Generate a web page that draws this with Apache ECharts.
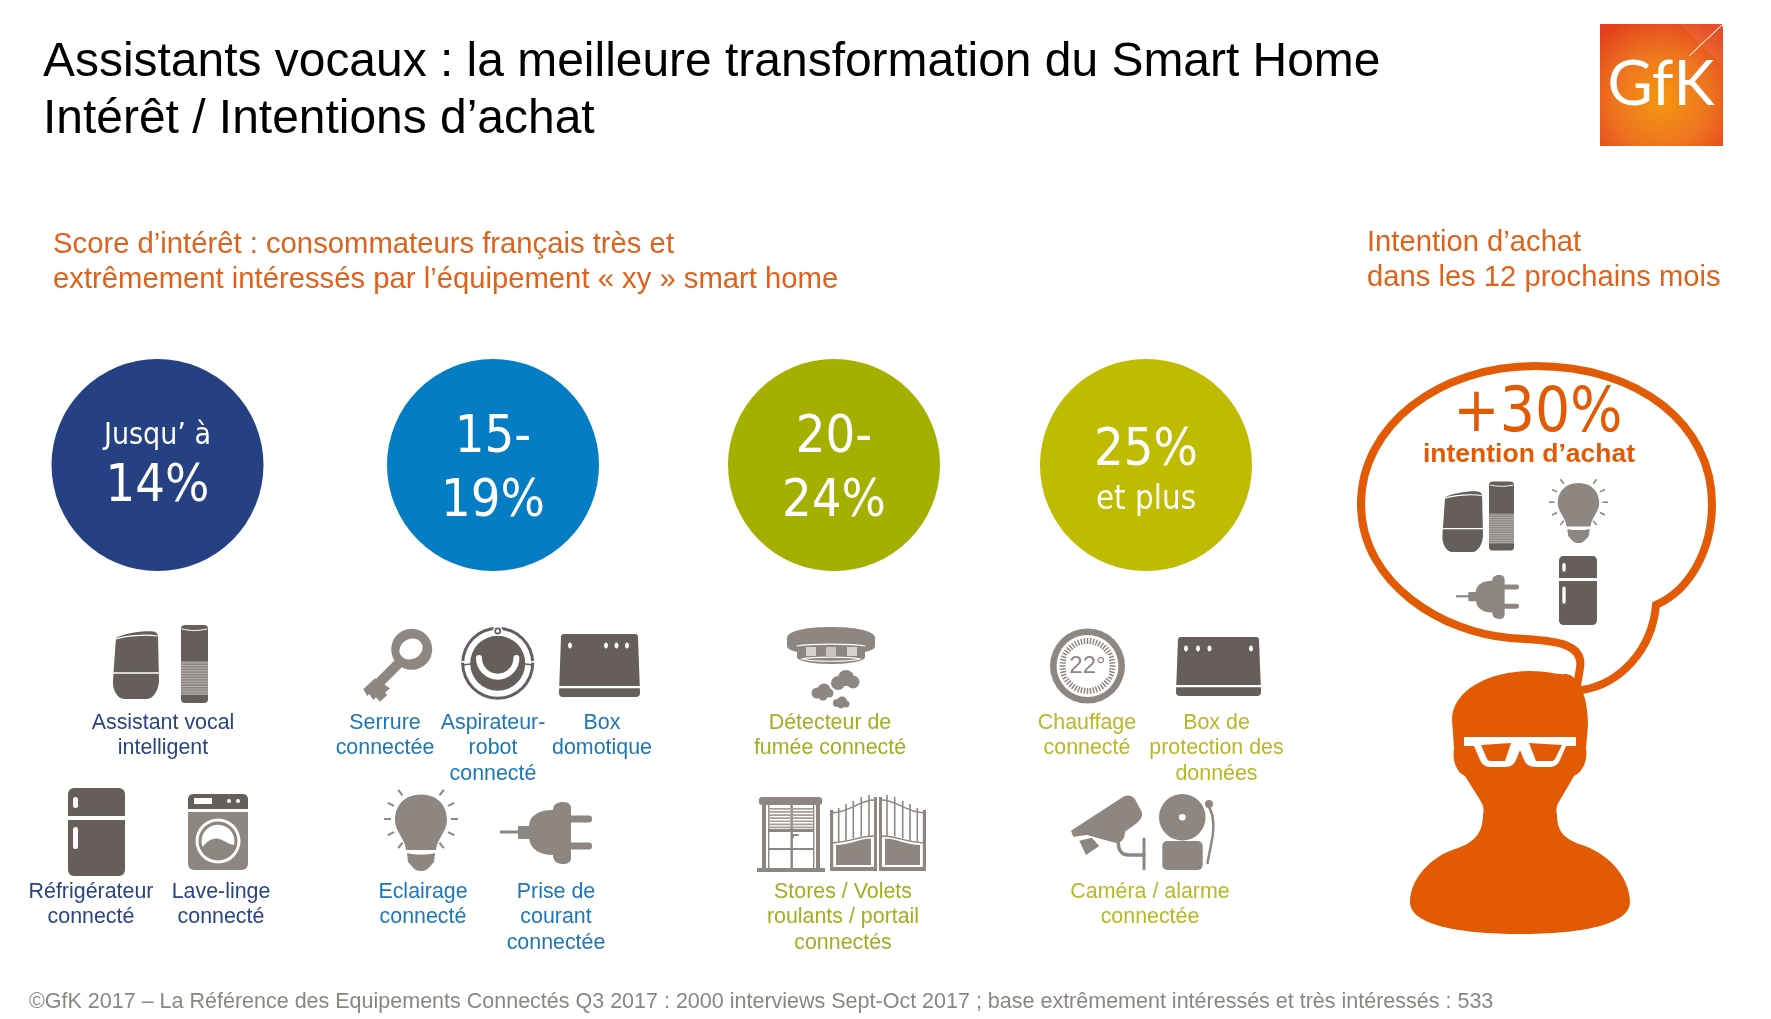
<!DOCTYPE html>
<html>
<head>
<meta charset="utf-8">
<title>Assistants vocaux</title>
<style>html,body{margin:0;padding:0;background:#fff}#main{width:1771px;height:1019px}</style>
<script src="https://cdn.jsdelivr.net/npm/echarts@6/dist/echarts.min.js"></script>
</head>
<body>
<div id="main"></div>
<script>
var titleLines = ['Assistants vocaux : la meilleure transformation du Smart Home', 'Intérêt / Intentions d’achat'];
var scoreLines = ['Score d’intérêt : consommateurs français très et', 'extrêmement intéressés par l’équipement « xy » smart home'];
var intentLines = ['Intention d’achat', 'dans les 12 prochains mois'];
var footer = '©GfK 2017 – La Référence des Equipements Connectés Q3 2017 : 2000 interviews Sept-Oct 2017 ; base extrêmement intéressés et très intéressés : 533';

var bandTop = ['Jusqu’ à', '15-', '20-', '25%'];
var bandBottom = ['14%', '19%', '24%', 'et plus'];
var bandItems = [
    ['Assistant vocal\nintelligent', 'Réfrigérateur\nconnecté', 'Lave-linge\nconnecté'],
    ['Serrure\nconnectée', 'Aspirateur-\nrobot\nconnecté', 'Box\ndomotique', 'Eclairage\nconnecté', 'Prise de\ncourant\nconnectée'],
    ['Détecteur de\nfumée connecté', 'Stores / Volets\nroulants / portail\nconnectés'],
    ['Chauffage\nconnecté', 'Box de\nprotection des\ndonnées', 'Caméra / alarme\nconnectée']
];
var intentValue = '+30%';
var intentCaption = 'intention d’achat';

// layout
var bandColors = ['#254183', '#047DC4', '#A4AF00', '#BEBB00'];
var labelColors = ['#2A4382', '#1B77B8', '#A3AE1E', '#B7B823'];
var bandX = [157.5, 493, 834, 1146];
var bandY = 465;
var bandTextY = [[436, 487.5], [438.5, 502.5], [438.5, 502.5], [451.5, 500]];
var bandTextSize = [[30, 52], [52, 52], [52, 52], [52, 32.8]];
var itemPos = [
    [[163, 710], [91, 879], [221, 879]],
    [[385, 710], [493, 710], [602, 710], [423, 879], [556, 879]],
    [[830, 710], [843, 879]],
    [[1087, 710], [1216.5, 710], [1150, 879]]
];

var DARK = '#655E5A', MID = '#8E8680', WHITE = '#FFFFFF', ORANGE = '#E25B04';
var CIRCLE_FONT = '"DejaVu Sans Condensed","DejaVu Sans",sans-serif';
var ARIAL = '"Liberation Sans",Arial,sans-serif';

function p(d, fill) { return {type: 'path', shape: {pathData: d}, style: {fill: fill}}; }
function s(d, stroke, w) { return {type: 'path', shape: {pathData: d}, style: {fill: 'none', stroke: stroke, lineWidth: w, lineCap: 'round'}}; }
function r(x, y, w, h, rad, fill) { return {type: 'rect', shape: {x: x, y: y, width: w, height: h, r: rad}, style: {fill: fill}}; }
function c(x, y, rad, fill) { return {type: 'circle', shape: {cx: x, cy: y, r: rad}, style: {fill: fill}}; }
function l(x1, y1, x2, y2, color, w) { return {type: 'line', shape: {x1: x1, y1: y1, x2: x2, y2: y2}, style: {stroke: color, lineWidth: w}}; }

function googleHome() {
    return [
        p('M116,638 C125,633 148,630 155,632 C158,633 158,636 158,638 L159,680 C159,690 153,699 147,699 L124,699 C118,699 112,690 113,680 Z', DARK),
        s('M116,639 C125,636 146,634 157,636', WHITE, 1.2),
        l(112, 673, 160, 673, WHITE, 1.4)
    ];
}
function echo() {
    var out = [
        r(181, 625, 27, 78, 4, DARK),
        s('M182,629 C190,631 199,631 207,629', WHITE, 1),
        r(181, 661, 27, 34, 0, MID)
    ];
    for (var y = 663; y < 695; y += 2.6) out.push(l(181, y, 208, y, '#C4BFBB', 0.8));
    return out;
}
function fridge() {
    return [r(68, 788, 57, 88, 6, DARK), r(66, 816, 61, 4, 0, WHITE), r(73, 797, 5, 11, 2.5, WHITE), r(73, 827, 5, 22, 2.5, WHITE)];
}
function washer() {
    return [
        r(188, 794, 60, 76, 6, MID), p('M188,809 L188,800 C188,796 190,794 194,794 L242,794 C246,794 248,796 248,800 L248,809 Z', DARK),
        r(188, 809, 60, 3, 0, WHITE), r(194, 798, 18, 6, 0, WHITE), c(229, 801, 2, WHITE), c(238, 801, 2, WHITE),
        c(218, 841, 22.5, WHITE), c(218, 841, 19.5, MID),
        p('M202.5,847 C207,841 212,838.3 217,838.5 C222,839 228,844 234,845 A16.5,16.5 0 1 0 202.5,847 Z', WHITE)
    ];
}
function key() {
    var out = [
        l(399, 663, 372, 690, MID, 10),
        p('M363.3,689.3 L375,678.3 L390,688.3 L385,692.7 L387.3,695 L380,701.7 L376,697.3 L373.3,700 L369.3,694 L367.3,696 Z', MID),
        c(411.7, 649.3, 20.5, MID)
    ];
    out.push({type: 'ellipse', shape: {cx: 411, cy: 649, rx: 12, ry: 10}, rotation: 0.5, originX: 411, originY: 649, style: {fill: WHITE}});
    return out;
}
function robot() {
    return [
        c(497.7, 663.3, 36.5, DARK), c(497.7, 663.3, 33.5, WHITE), c(497.7, 663.3, 27.5, DARK),
        s('M479,658 A18.7,18.7 0 0 0 516.4,658', WHITE, 6),
        c(497.7, 631, 5, WHITE), c(497.7, 631, 3.4, DARK), c(497.7, 631, 1.7, WHITE),
        r(461, 661, 8, 1.6, 0, WHITE), r(526, 661, 8, 1.6, 0, WHITE),
        l(462, 665, 471, 664, DARK, 1.4), l(525, 664, 534, 665, DARK, 1.4)
    ];
}
function box(x, y, w, h, dots) {
    var out = [
        p('M' + (x + 2) + ',' + (y + 3) + ' Q' + (x + 2) + ',' + y + ' ' + (x + 5) + ',' + y + ' L' + (x + w - 5) + ',' + y +
          ' Q' + (x + w - 2) + ',' + y + ' ' + (x + w - 2) + ',' + (y + 3) + ' L' + (x + w) + ',' + (y + h - 4) +
          ' Q' + (x + w) + ',' + (y + h) + ' ' + (x + w - 4) + ',' + (y + h) + ' L' + (x + 4) + ',' + (y + h) +
          ' Q' + x + ',' + (y + h) + ' ' + x + ',' + (y + h - 4) + ' Z', DARK),
        r(x, y + h - 11, w, 2.2, 0, WHITE)
    ];
    dots.forEach(function (dx) {
        out.push({type: 'ellipse', shape: {cx: x + dx, cy: y + 11.5, rx: 2, ry: 3}, style: {fill: WHITE}});
    });
    return out;
}
function bulb() {
    var out = [
        p('M421,794.5 C438,794.5 447,806 447,820 C447,832 437,838 436,850 L406,850 C405,838 395,832 395,820 C395,806 404,794.5 421,794.5 Z', MID),
        p('M407,853 C415,855 427,855 435,853 L434,862 C430,866 428,871 421,871 C414,871 412,866 408,862 Z', MID)
    ];
    [0, 26, 52, -26, -52].forEach(function (a) {
        var t = a * Math.PI / 180, co = Math.cos(t), si = Math.sin(t);
        out.push(l(421 + 30 * co, 819 + 30 * si, 421 + 37 * co, 819 + 37 * si, MID, 2));
        out.push(l(421 - 30 * co, 819 + 30 * si, 421 - 37 * co, 819 + 37 * si, MID, 2));
    });
    return out;
}
function plug() {
    return [
        l(500, 832, 520, 832, MID, 3), r(518, 826, 12, 13, 1, MID),
        p('M529,838 L529,825 C530,816 538,810 553,810 C553,804 558,802 563,802 C569,802 571,805 571,808 L571,858 C571,862 568,864 563,864 C558,864 553,862 553,855 C538,855 530,848 529,838 Z', MID),
        r(569, 815.5, 23, 7, 3, MID), r(569, 842.5, 23, 7, 3, MID)
    ];
}
function smoke() {
    return [
        p('M787,638 C787,630 810,627 831,627 C852,627 875,630 875,638 L875,646 C875,650 866,652 862,652 L800,652 C796,652 787,650 787,646 Z', MID),
        p('M797,647 C810,644 852,644 865,647 L865,657 C865,661 850,664 831,664 C812,664 797,661 797,657 Z', MID),
        s('M797,646 C810,643.5 852,643.5 865,646', WHITE, 1.2),
        s('M802,659 C812,656.5 850,656.5 860,659 C850,662 812,662 802,659 Z', WHITE, 1.2),
        r(806, 647, 10, 9, 0, '#D5D1CE'), r(826, 647, 10, 9, 0, '#C9C4C0'), r(847, 647, 10, 9, 0, '#D5D1CE'),
        c(838, 683, 7, MID), c(846, 678, 8, MID), c(853, 682, 6.5, MID),
        c(817, 693, 5.5, MID), c(824, 690, 6.5, MID), c(829, 693, 4.5, MID), c(823, 696, 4.5, MID),
        c(837, 703, 4, MID), c(842, 701.5, 5, MID), c(846, 704, 3.5, MID), c(841, 705.5, 3, MID)
    ];
}
function thermostat() {
    var out = [c(1087.5, 666, 37.5, MID), c(1087.5, 666, 31, WHITE)];
    for (var i = 0; i < 52; i++) {
        var t = i * Math.PI * 2 / 52, co = Math.cos(t), si = Math.sin(t);
        out.push(l(1087.5 + 22 * co, 666 + 22 * si, 1087.5 + 28 * co, 666 + 28 * si, MID, 1.5));
    }
    out.push(r(1066, 655, 43, 22, 0, WHITE));
    out.push({type: 'text', style: {text: '22°', x: 1087.5, y: 666, align: 'center', verticalAlign: 'middle', fill: MID, font: '24px ' + ARIAL}});
    return out;
}
function shutter() {
    var out = [
        r(759, 797, 63, 8, 3, MID), r(762, 805, 4, 64, 0, MID), r(816, 805, 4, 64, 0, MID),
        r(757, 868, 68, 4, 0, MID), r(790.5, 805, 2.4, 63, 0, MID), r(768, 848, 46, 2, 0, MID), r(768, 829, 46, 3, 0, MID),
        r(768, 805, 1.4, 64, 0, MID), r(813, 805, 1.4, 64, 0, MID), r(792, 834, 7, 2, 1, MID), r(792, 834, 2, 4, 1, MID)
    ];
    for (var y = 808; y < 829; y += 3.1) out.push(r(768, y, 46, 1.7, 0, '#A49E99'));
    return out;
}
function gateLeaf() {
    var out = [
        r(830, 810, 3.2, 60, 0, MID), r(874, 797, 3, 74, 0, MID), r(830, 867, 47, 4, 0, MID),
        p('M836,845 C850,845 860,838 871,838.7 L871,865 L836,865 Z', MID),
        s('M833,812.7 C850,812 860,800 874,800', MID, 1.4),
        s('M833,842.7 C850,842 860,836 874,836', MID, 1.4)
    ];
    [[838.7, 808, 842], [846, 804, 841], [853.3, 801, 838.5], [861.3, 797, 836.5], [869, 795, 836]].forEach(function (b) {
        out.push(l(b[0], b[1], b[0], b[2], MID, 1.6));
    });
    return out;
}
function gate() {
    return gateLeaf().concat([{type: 'group', x: 1756, scaleX: -1, children: gateLeaf()}]);
}
function camera() {
    return [
        p('M1071,830.7 L1123.3,796.7 C1128,794 1133,796 1135,799.3 L1141.7,811.7 C1143.3,816.7 1140,820 1136.7,823.3 L1125,831.7 C1125,838.3 1121.7,842.7 1116.7,842.7 L1115,842.7 L1087,835 L1073.3,836.7 Z', MID),
        p('M1079.3,840.7 L1091.7,837.7 L1099.3,846 L1086,855 Z', MID),
        s('M1118.3,843.3 C1118.3,851.7 1123.3,855 1128.3,855 L1144,855', MID, 3.5),
        r(1142.5, 838, 3, 32, 0, MID)
    ];
}
function bell() {
    return [
        c(1182.3, 817.3, 23.3, MID), c(1182.3, 817.3, 3.3, WHITE), r(1162.3, 841, 40.4, 29, 5, MID),
        c(1209, 804, 4, MID), s('M1209,807 C1215,817 1214,833 1211,845 L1207.5,863', MID, 2.5)
    ];
}
function person() {
    return [
        p('M1452,720 C1452,690 1490,671 1530,671 C1548,671 1558,675 1566,674 C1578,675 1588,695 1588,725 L1586,748 C1588,760 1583,772 1574,776 L1560,800 C1556,806 1556,810 1557,815 C1557,832 1565,840 1585,846 C1612,856 1630,880 1630,902 C1630,925 1580,934 1520,934 C1460,934 1410,925 1410,902 C1410,880 1430,856 1458,848 C1475,842 1483,832 1483,815 C1484,810 1484,806 1480,800 L1465,776 C1456,772 1452,760 1454,748 Z', ORANGE),
        p('M1464,737 L1576,737 L1576,746 L1566,746 L1560,760 Q1557,767 1550,767 L1535,767 Q1527,767 1524,760 L1520,750 L1516,760 Q1513,767 1506,767 L1490,767 Q1483,767 1480,760 L1474,746 L1464,746 Z', WHITE),
        p('M1481,745 L1511,743 L1505,761 L1490,761 Q1488,761 1487,759 Z', ORANGE),
        p('M1529,743 L1562,745 L1555,759 Q1554,761 1552,761 L1536,761 Z', ORANGE)
    ];
}
function bubble() {
    return [s('M1582,690 C1620,684 1652,650 1656,605 C1690,590 1712,550 1712,504 C1712,425 1640,366 1535,366 C1440,366 1361,425 1361,504 C1361,585 1445,633 1510,638 C1545,640 1585,640 1580,668 L1577,686', ORANGE, 8)];
}

// from/to boxes are for the copies drawn inside the bubble
var iconRows = [
    {draw: googleHome}, {draw: echo}, {draw: fridge}, {draw: washer}, {draw: key}, {draw: robot},
    {draw: function () { return box(559, 634, 81, 63, [11, 47, 57.5, 68]); }},
    {draw: bulb}, {draw: plug}, {draw: smoke}, {draw: shutter}, {draw: gate},
    {draw: thermostat},
    {draw: function () { return box(1176, 637, 85, 59, [10, 22, 33.5, 75]); }},
    {draw: camera}, {draw: bell}, {draw: person}, {draw: bubble},
    {draw: googleHome, from: [112.5, 631, 46.5, 68], to: [1442, 491, 41, 61]},
    {draw: echo, from: [181, 625, 27, 78], to: [1489, 481.5, 25, 69]},
    {draw: bulb, from: [384, 794.5, 74, 76.5], to: [1549, 483, 59, 60]},
    {draw: plug, from: [500, 802, 92, 62], to: [1456, 575, 63, 44]},
    {draw: fridge, from: [68, 788, 57, 88], to: [1559, 556, 38, 69]}
];

function renderIcon(params) {
    var row = iconRows[params.dataIndex];
    var g = {type: 'group', children: row.draw()};
    if (row.from) {
        g.scaleX = row.to[2] / row.from[2];
        g.scaleY = row.to[3] / row.from[3];
        g.x = row.to[0] - row.from[0] * g.scaleX;
        g.y = row.to[1] - row.from[1] * g.scaleY;
    }
    return g;
}

function txt(text, x, y, font, fill, align) {
    return {type: 'text', z: 100, silent: true, style: {text: text, x: x, y: y, font: font, fill: fill, align: align || 'left', verticalAlign: 'middle'}};
}

var texts = [
    txt(titleLines[0], 43, 63, '47.95px ' + ARIAL, '#000'),
    txt(titleLines[1], 43, 120, '47.95px ' + ARIAL, '#000'),
    txt(scoreLines[0], 53, 244.5, '29.25px ' + ARIAL, '#E0611A'),
    txt(scoreLines[1], 53, 279.5, '29.25px ' + ARIAL, '#E0611A'),
    txt(intentLines[0], 1367, 242.5, '29.2px ' + ARIAL, '#E0611A'),
    txt(intentLines[1], 1367, 277.5, '29.2px ' + ARIAL, '#E0611A'),
    txt(footer, 29, 1002, '21.5px ' + ARIAL, '#8C8681'),
    txt(intentValue, 1538, 415.5, '61.5px ' + CIRCLE_FONT, ORANGE, 'center'),
    txt(intentCaption, 1529, 455, 'bold 26.5px ' + ARIAL, ORANGE, 'center')
];
bandTop.forEach(function (t, i) {
    texts.push(txt(t, bandX[i], bandTextY[i][0], bandTextSize[i][0] + 'px ' + CIRCLE_FONT, WHITE, 'center'));
    texts.push(txt(bandBottom[i], bandX[i], bandTextY[i][1], bandTextSize[i][1] + 'px ' + CIRCLE_FONT, WHITE, 'center'));
});
bandItems.forEach(function (items, i) {
    items.forEach(function (t, j) {
        texts.push({type: 'text', z: 100, silent: true, style: {
            text: t, x: itemPos[i][j][0], y: itemPos[i][j][1], align: 'center', verticalAlign: 'top',
            lineHeight: 25.5, font: '21.4px ' + ARIAL, fill: labelColors[i]
        }});
    });
});

// logo
var logo = [
    {type: 'rect', z: 90, silent: true, shape: {x: 1600, y: 24, width: 123, height: 122}, style: {
        fill: {type: 'radial', x: 0.5, y: 0.62, r: 0.72, colorStops: [
            {offset: 0, color: '#F4980F'}, {offset: 0.55, color: '#EE7420'}, {offset: 1, color: '#E3401B'}
        ]}
    }},
    {type: 'polygon', z: 91, silent: true, shape: {points: [[1723, 24], [1689, 56], [1723, 24], [1723, 27]]}, style: {fill: '#FFF', stroke: '#FFE6D0', lineWidth: 1}},
    {type: 'polygon', z: 90, silent: true, shape: {points: [[1680, 24], [1723, 24], [1723, 67]]}, style: {fill: 'rgba(255,255,255,0.07)'}},
    txt('GfK', 1661, 85, '400 62px Lato,' + ARIAL, WHITE, 'center')
];

var chart = echarts.init(document.getElementById('main'));
chart.setOption({
    backgroundColor: '#fff',
    animation: false,
    grid: {left: 0, right: 0, top: 0, bottom: 0},
    xAxis: {type: 'value', min: 0, max: 1771, show: false},
    yAxis: {type: 'value', min: 0, max: 1019, inverse: true, show: false},
    graphic: {elements: texts.concat(logo)},
    series: [
        {
            type: 'scatter',
            symbol: 'circle',
            symbolSize: 212,
            silent: true,
            data: bandX.map(function (x, i) {
                return {value: [x, bandY], itemStyle: {color: bandColors[i], opacity: 1}};
            })
        },
        {
            type: 'custom',
            silent: true,
            coordinateSystem: 'cartesian2d',
            clip: false,
            encode: {x: 0, y: 1},
            data: iconRows.map(function () { return [0, 0]; }),
            renderItem: renderIcon
        }
    ]
});
</script>
</body>
</html>
